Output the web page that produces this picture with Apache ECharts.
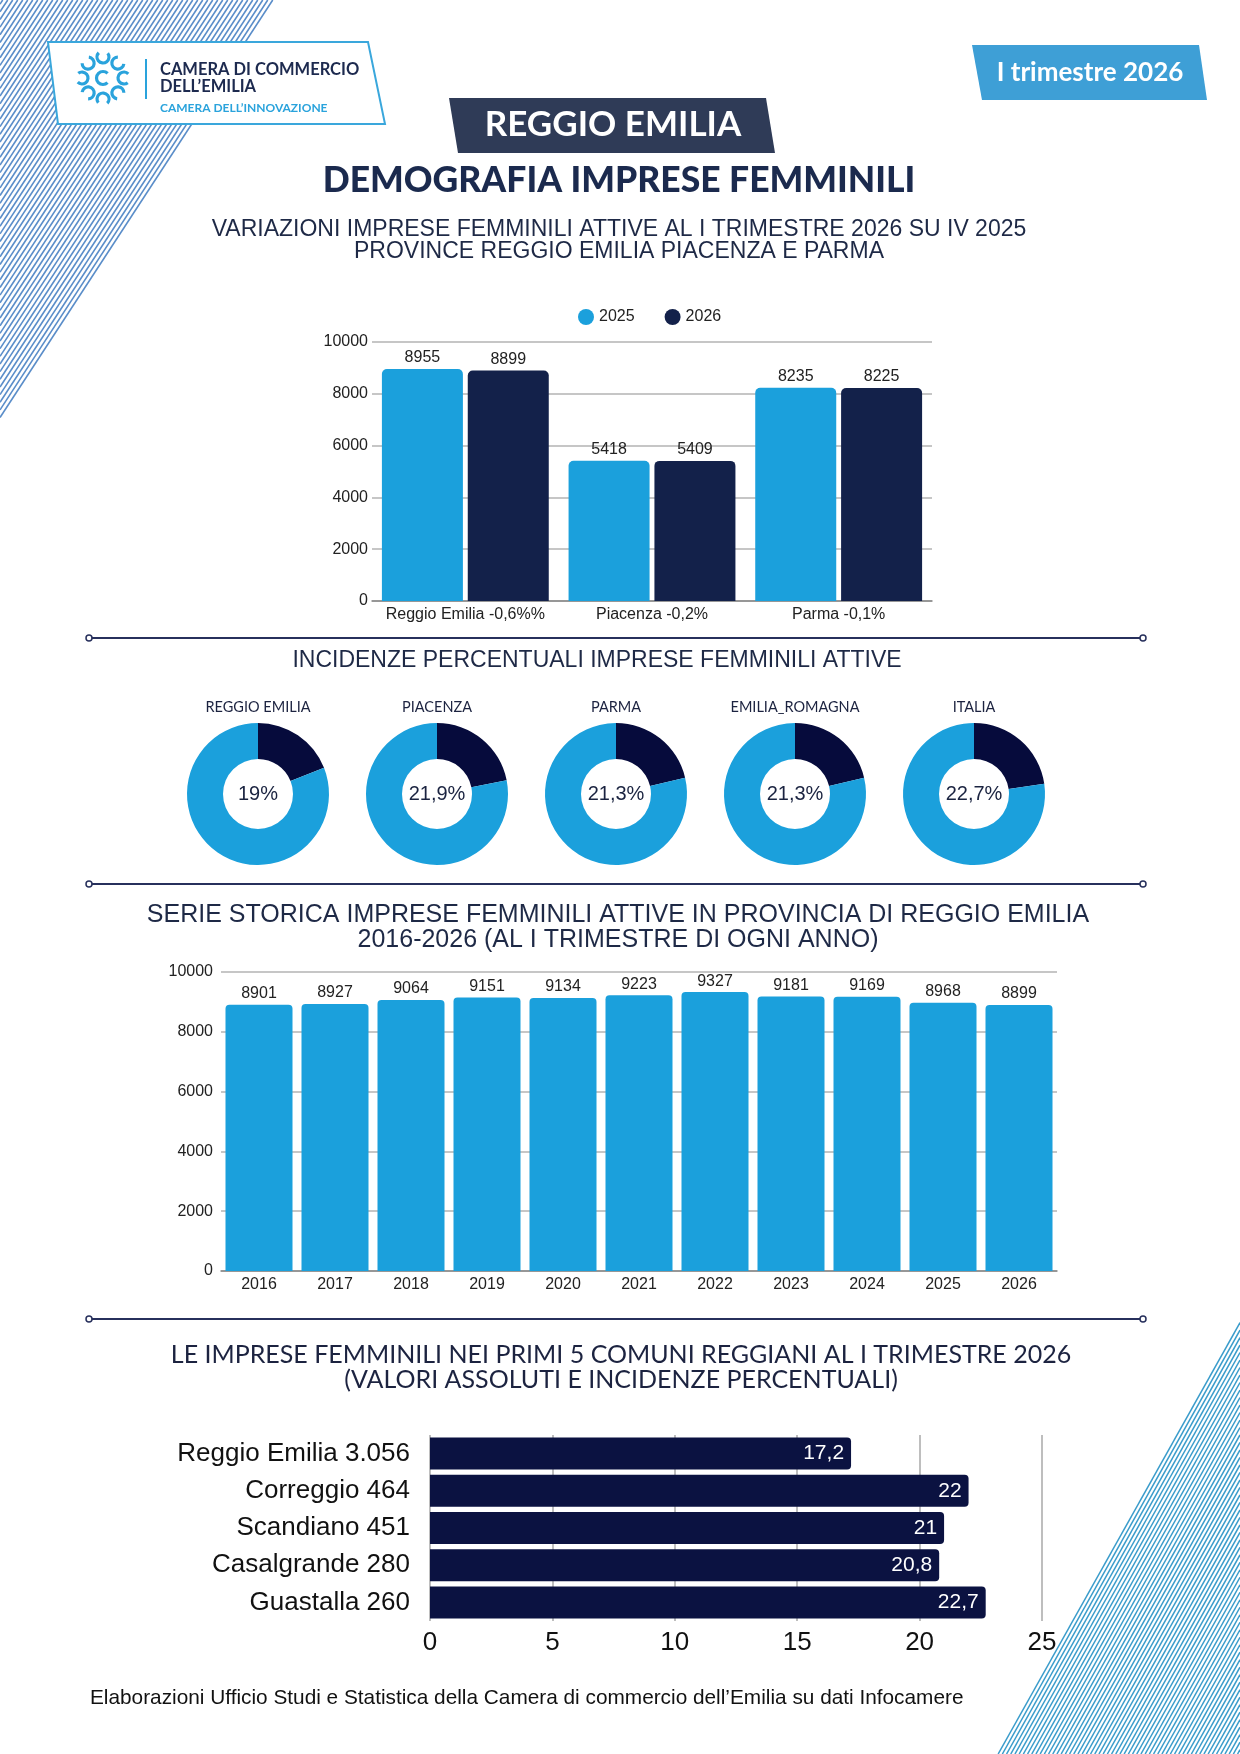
<!DOCTYPE html>
<html>
<head>
<meta charset="utf-8">
<title>Demografia imprese femminili - Reggio Emilia</title>
<script src="https://cdn.jsdelivr.net/npm/echarts@6/dist/echarts.min.js"></script>
<style>
  html, body { margin: 0; padding: 0; background: #fff; }
  #main { width: 1240px; height: 1754px; }
</style>
</head>
<body>
<div id="main"></div>
<script>
// dati: variazioni imprese femminili attive (I trim 2026 su IV 2025)
const province = ['Reggio Emilia -0,6%%', 'Piacenza -0,2%', 'Parma -0,1%'];
const attive2025 = [8955, 5418, 8235];
const attive2026 = [8899, 5409, 8225];

// incidenze percentuali
const territori = ['REGGIO EMILIA', 'PIACENZA', 'PARMA', 'EMILIA_ROMAGNA', 'ITALIA'];
const incidenze = [19, 21.9, 21.3, 21.3, 22.7];

// serie storica Reggio Emilia
const anni = ['2016', '2017', '2018', '2019', '2020', '2021', '2022', '2023', '2024', '2025', '2026'];
const serieStorica = [8901, 8927, 9064, 9151, 9134, 9223, 9327, 9181, 9169, 8968, 8899];

// primi 5 comuni
const comuni = ['Reggio Emilia', 'Correggio', 'Scandiano', 'Casalgrande', 'Guastalla'];
const impreseComuni = ['3.056', '464', '451', '280', '260'];
const incidenzeComuni = [17.2, 22, 21, 20.8, 22.7];

const AZZURRO = '#1ba0dc';
const BLU = '#13214a';
const BLU_PIE = '#060b3c';
const BLU_HBAR = '#0b1241';
const TITOLO = '#1e2946';
const ARIAL = '"Liberation Sans", Arial, sans-serif';
const LATO = 'Lato, "Noto Sans", sans-serif';

const virgola = v => String(v).replace('.', ',');

const chart = echarts.init(document.getElementById('main'), null, { renderer: 'canvas' });

// ---- elementi grafici (decorazioni, titoli) ----
const graphic = [];

// righe diagonali in alto a sinistra
for (let t = 0.01; t <= 1.0; t += 5 / 273) {
  graphic.push({
    type: 'line', z: -10, silent: true,
    shape: { x1: t * 273, y1: 0, x2: 0, y2: t * 418 },
    style: { stroke: '#5a8dc9', lineWidth: 1.6 }
  });
}
// righe diagonali in basso a destra
for (let t = 0.01; t <= 1.0; t += 4.2 / 245) {
  graphic.push({
    type: 'line', z: -10, silent: true,
    shape: { x1: 1240, y1: 1754 - t * 437, x2: 1240 - t * 245, y2: 1754 },
    style: { stroke: '#3a9ccb', lineWidth: 1.5 }
  });
}

function testo(text, x, y, font, fill, align) {
  graphic.push({
    type: 'text', x: x, y: y, z: 10,
    style: { text: text, font: font, fill: fill, textAlign: align || 'center', textVerticalAlign: 'middle' }
  });
}

// logo box
graphic.push({
  type: 'polygon', z: 5,
  shape: { points: [[48, 42], [368, 42], [385, 124], [58, 124]] },
  style: { fill: '#fff', stroke: '#3aa7dc', lineWidth: 2 }
});
// simbolo logo (approssimato)
for (let i = 0; i < 8; i++) {
  const a = i * Math.PI / 4;
  graphic.push({
    type: 'arc', z: 6,
    shape: { cx: 103 + 21 * Math.cos(a), cy: 78 + 21 * Math.sin(a), r: 6, startAngle: a + 0.9, endAngle: a + 0.9 + 4.6 },
    style: { stroke: '#2aa3dc', lineWidth: 3.2, fill: null }
  });
}
graphic.push({
  type: 'arc', z: 6,
  shape: { cx: 103, cy: 78, r: 6.5, startAngle: 0.8, endAngle: 5.5 },
  style: { stroke: '#2aa3dc', lineWidth: 3.2, fill: null }
});
graphic.push({
  type: 'line', z: 6,
  shape: { x1: 146, y1: 59, x2: 146, y2: 99 },
  style: { stroke: '#2aa3dc', lineWidth: 2 }
});
testo('CAMERA DI COMMERCIO', 160, 70, 'bold 16.5px ' + LATO, '#1d2a4f', 'left');
testo('DELL’EMILIA', 160, 87, 'bold 16.5px ' + LATO, '#1d2a4f', 'left');
testo('CAMERA DELL’INNOVAZIONE', 160, 108, 'bold 12px ' + LATO, '#2aa3dc', 'left');

// badge trimestre
graphic.push({
  type: 'polygon', z: 5,
  shape: { points: [[972, 45], [1199, 45], [1207, 100], [982, 100]] },
  style: { fill: '#3e9fd6' }
});
testo('I trimestre 2026', 1090, 73, 'bold 26px ' + LATO, '#fff');

// badge provincia
graphic.push({
  type: 'polygon', z: 5,
  shape: { points: [[449, 98], [766, 98], [775, 153], [458, 153]] },
  style: { fill: '#2f3b57' }
});
testo('REGGIO EMILIA', 613, 125, 'bold 35px ' + LATO, '#fff');
testo('DEMOGRAFIA IMPRESE FEMMINILI', 619, 181, '900 35.5px ' + LATO, '#1b2a4e');

// titoli sezioni
testo('VARIAZIONI IMPRESE FEMMINILI ATTIVE AL I TRIMESTRE 2026 SU IV 2025', 619, 230, '23px ' + ARIAL, TITOLO);
testo('PROVINCE REGGIO EMILIA PIACENZA E PARMA', 619, 252, '23px ' + ARIAL, TITOLO);
testo('INCIDENZE PERCENTUALI IMPRESE FEMMINILI ATTIVE', 597, 661, '23px ' + ARIAL, TITOLO);
testo('SERIE STORICA IMPRESE FEMMINILI ATTIVE IN PROVINCIA DI REGGIO EMILIA', 618, 915, '25px ' + ARIAL, TITOLO);
testo('2016-2026 (AL I TRIMESTRE DI OGNI ANNO)', 618, 940, '25px ' + ARIAL, TITOLO);
testo('LE IMPRESE FEMMINILI NEI PRIMI 5 COMUNI REGGIANI AL I TRIMESTRE 2026', 621, 1355, '25px ' + LATO, '#1c2340');
testo('(VALORI ASSOLUTI E INCIDENZE PERCENTUALI)', 621, 1380, '25px ' + LATO, '#1c2340');
testo('Elaborazioni Ufficio Studi e Statistica della Camera di commercio dell’Emilia su dati Infocamere', 90, 1698, '20.8px ' + ARIAL, '#111', 'left');

// separatori
[638, 884, 1319].forEach(y => {
  graphic.push({ type: 'line', z: 5, shape: { x1: 89, y1: y, x2: 1143, y2: y }, style: { stroke: '#27305c', lineWidth: 2 } });
  [89, 1143].forEach(x => {
    graphic.push({ type: 'circle', z: 6, shape: { cx: x, cy: y, r: 3 }, style: { fill: '#fff', stroke: '#27305c', lineWidth: 1.5 } });
  });
});

// ---- ciambelle ----
const pieX = [258, 437, 616, 795, 974];
const pieY = 794;
territori.forEach((t, i) => {
  testo(t, pieX[i], 707, '14.5px ' + LATO, '#1c2340');
});
const pieSeries = incidenze.map((v, i) => ({
  type: 'pie',
  center: [pieX[i], pieY],
  radius: [35, 71],
  startAngle: 90,
  clockwise: true,
  silent: true,
  labelLine: { show: false },
  data: [
    { value: v, name: 'femminili', itemStyle: { color: BLU_PIE },
      label: { show: true, position: 'center', formatter: virgola(v) + '%', fontSize: 20, fontFamily: ARIAL, color: '#1a2340' } },
    { value: 100 - v, name: 'altre', itemStyle: { color: AZZURRO }, label: { show: false } }
  ]
}));

const gridLine = { show: true, lineStyle: { color: '#b3b3b3', width: 1.5 } };
const numero = v => String(v);

const option = {
  animation: false,
  backgroundColor: '#fff',
  textStyle: { fontFamily: ARIAL },
  graphic: graphic,
  legend: {
    data: ['2025', '2026'],
    left: 573, top: 304,
    icon: 'circle', itemWidth: 16, itemHeight: 16, itemGap: 30,
    textStyle: { fontSize: 16, color: '#222', fontFamily: ARIAL }
  },
  grid: [
    { left: 372, top: 342, width: 560, height: 259 },
    { left: 221, top: 972, width: 836, height: 299 },
    { left: 430, top: 1435, width: 612, height: 186 }
  ],
  xAxis: [
    { type: 'category', gridIndex: 0, data: province,
      axisLine: { lineStyle: { color: '#888', width: 1.5 } }, axisTick: { show: false },
      axisLabel: { fontSize: 16, color: '#222', margin: 6, interval: 0 } },
    { type: 'category', gridIndex: 1, data: anni,
      axisLine: { lineStyle: { color: '#888', width: 1.5 } }, axisTick: { show: false },
      axisLabel: { fontSize: 16, color: '#222', margin: 6, interval: 0 } },
    { type: 'value', gridIndex: 2, min: 0, max: 25, interval: 5,
      axisLine: { show: false }, axisTick: { show: false },
      splitLine: { show: true, lineStyle: { color: '#a8a8a8', width: 1.5 } },
      axisLabel: { fontSize: 26, color: '#111', margin: 9 } }
  ],
  yAxis: [
    { type: 'value', gridIndex: 0, min: 0, max: 10000, interval: 2000,
      axisLine: { show: false }, axisTick: { show: false }, splitLine: gridLine,
      axisLabel: { fontSize: 16, color: '#222', margin: 4, formatter: numero } },
    { type: 'value', gridIndex: 1, min: 0, max: 10000, interval: 2000,
      axisLine: { show: false }, axisTick: { show: false }, splitLine: gridLine,
      axisLabel: { fontSize: 16, color: '#222', margin: 8, formatter: numero } },
    { type: 'category', gridIndex: 2, inverse: true,
      data: comuni.map((c, i) => c + ' ' + impreseComuni[i]),
      axisLine: { show: false }, axisTick: { show: false },
      axisLabel: { fontSize: 26, color: '#111', margin: 20 } }
  ],
  series: [
    { name: '2025', type: 'bar', xAxisIndex: 0, yAxisIndex: 0, data: attive2025,
      barWidth: 81, barGap: '6%',
      itemStyle: { color: AZZURRO, borderRadius: [5, 5, 0, 0] },
      label: { show: true, position: 'top', distance: 3, fontSize: 16, color: '#222' } },
    { name: '2026', type: 'bar', xAxisIndex: 0, yAxisIndex: 0, data: attive2026,
      barWidth: 81, barGap: '6%',
      itemStyle: { color: BLU, borderRadius: [5, 5, 0, 0] },
      label: { show: true, position: 'top', distance: 3, fontSize: 16, color: '#222' } },
    ...pieSeries,
    { name: 'Serie storica', type: 'bar', xAxisIndex: 1, yAxisIndex: 1, data: serieStorica,
      barWidth: 67,
      itemStyle: { color: AZZURRO, borderRadius: [4, 4, 0, 0] },
      label: { show: true, position: 'top', distance: 3, fontSize: 16, color: '#222' } },
    { name: 'Incidenza comuni', type: 'bar', xAxisIndex: 2, yAxisIndex: 2, data: incidenzeComuni,
      barWidth: 32,
      itemStyle: { color: BLU_HBAR, borderRadius: [0, 4, 4, 0] },
      label: { show: true, position: 'insideRight', distance: 7, fontSize: 21, color: '#fff',
        formatter: p => virgola(p.value) } }
  ]
};

chart.setOption(option);
</script>
</body>
</html>
